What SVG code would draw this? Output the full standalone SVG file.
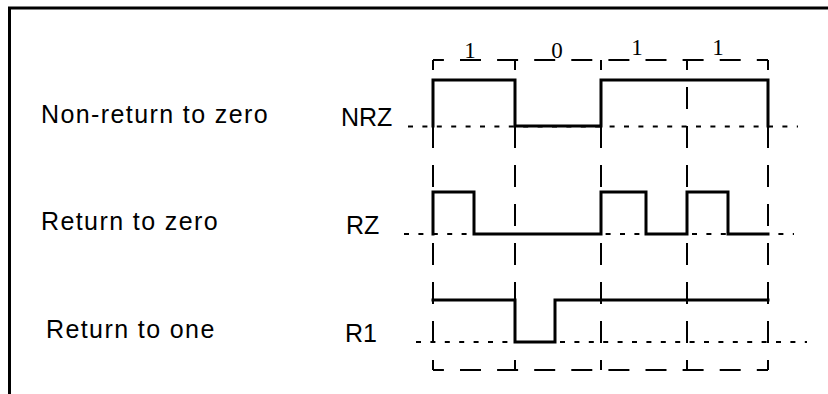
<svg xmlns="http://www.w3.org/2000/svg" width="828" height="394" viewBox="0 0 828 394">
<style>
.lbl{font-family:"Liberation Sans",Arial,sans-serif;font-size:25px;fill:#000}
.wide{letter-spacing:1.4px}
.bit{font-family:"Liberation Serif","Times New Roman",serif;font-size:23px;fill:#000;text-anchor:middle}
.frame{fill:none;stroke:#000;stroke-width:3}
.box{fill:none;stroke:#000;stroke-width:2;stroke-dasharray:21 16.1;stroke-dashoffset:10.1}
.vdash{fill:none;stroke:#000;stroke-width:2;stroke-dasharray:22 17;stroke-dashoffset:12}
.dot{fill:none;stroke:#000;stroke-width:2;stroke-dasharray:5 9.4}
.sig{fill:none;stroke:#000;stroke-width:3;stroke-linejoin:miter;stroke-linecap:square}
</style>
<rect width="828" height="394" fill="#fff"/>
<g id="frame">
<path class="frame" d="M9.5,394 V8 H828"/>
</g>
<g id="labels">
<text class="lbl wide" x="41" y="123">Non-return to zero</text>
<text class="lbl wide" x="41" y="230">Return to zero</text>
<text class="lbl wide" x="46" y="338">Return to one</text>
<text class="lbl" x="341" y="126">NRZ</text>
<text class="lbl" x="346" y="234">RZ</text>
<text class="lbl" x="345" y="342">R1</text>
</g>
<g id="bits">
<text class="bit" x="470" y="57.5">1</text>
<text class="bit" x="557" y="58">0</text>
<text class="bit" x="637" y="55">1</text>
<text class="bit" x="718" y="55">1</text>
</g>
<g id="grid">
<line class="box" x1="433" y1="60" x2="768" y2="60"/>
<line class="box" x1="433" y1="370" x2="768" y2="370"/>
<line class="vdash" x1="433" y1="60" x2="433" y2="370"/>
<line class="vdash" x1="515" y1="60" x2="515" y2="370"/>
<line class="vdash" x1="601" y1="60" x2="601" y2="370"/>
<line class="vdash" x1="687" y1="60" x2="687" y2="370"/>
<line class="vdash" x1="768" y1="60" x2="768" y2="370"/>
<line class="dot" x1="408" y1="126.5" x2="798" y2="126.5"/>
<line class="dot" x1="404" y1="234" x2="794" y2="234"/>
<line class="dot" x1="416" y1="342" x2="807" y2="342"/>
</g>
<g id="connectors">
<path id="nrz" class="sig" d="M433,126 V80 H515 V126 H601 V80 H768 V126"/>
<path id="rz" class="sig" d="M433,234 V192 H474 V234 H601 V192 H646 V234 H687 V192 H728 V234 H768"/>
<path id="r1" class="sig" d="M433,300 H515 V342 H555 V300 H768"/>
</g>
</svg>
